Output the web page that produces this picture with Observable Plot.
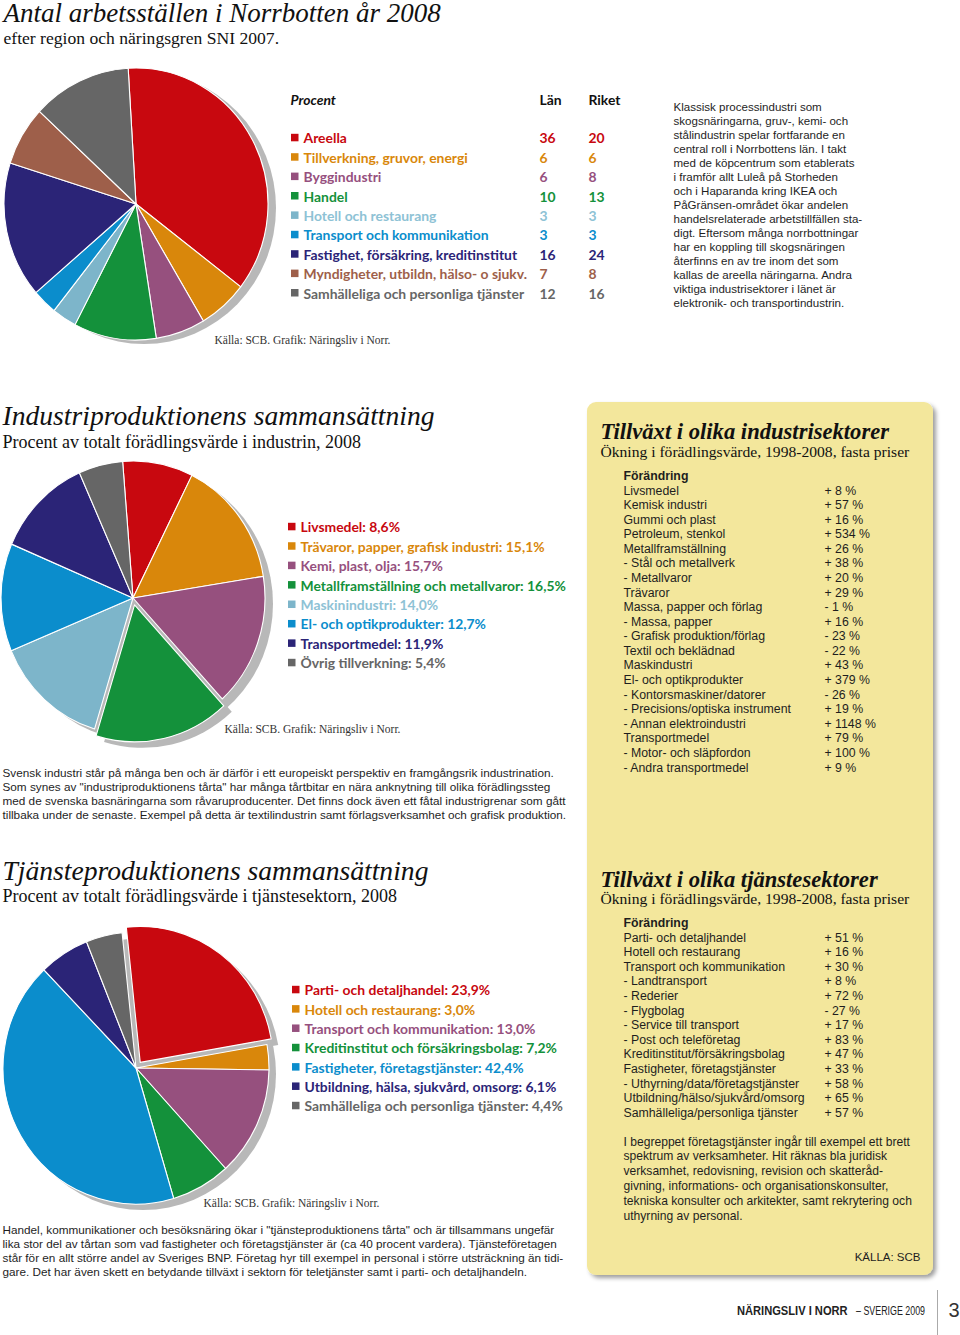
<!DOCTYPE html>
<html><head><meta charset="utf-8">
<script src="https://cdn.jsdelivr.net/npm/d3@7"></script>
<script src="https://cdn.jsdelivr.net/npm/@observablehq/plot@0.6"></script>
<style>
html,body{margin:0;padding:0;background:#fff;}
#chart{width:960px;height:1335px;}
</style></head>
<body><div id="chart"></div>
<script>
// ---------- DATA ----------
const sec1Categories = ["Areella","Tillverkning, gruvor, energi","Byggindustri","Handel","Hotell och restaurang","Transport och kommunikation","Fastighet, försäkring, kreditinstitut","Myndigheter, utbildn, hälso- o sjukv.","Samhälleliga och personliga tjänster"];
const sec1Lan   = [36, 6, 6, 10, 3, 3, 16, 7, 12];
const sec1Riket = [20, 6, 8, 13, 3, 3, 24, 8, 16];

const indCategories = ["Livsmedel","Trävaror, papper, grafisk industri","Kemi, plast, olja","Metallframställning och metallvaror","Maskinindustri","El- och optikprodukter","Transportmedel","Övrig tillverkning"];
const indShares = [8.6, 15.1, 15.7, 16.5, 14.0, 12.7, 11.9, 5.4];

const tjCategories = ["Parti- och detaljhandel","Hotell och restaurang","Transport och kommunikation","Kreditinstitut och försäkringsbolag","Fastigheter, företagstjänster","Utbildning, hälsa, sjukvård, omsorg","Samhälleliga och personliga tjänster"];
const tjShares = [23.9, 3.0, 13.0, 7.2, 42.4, 6.1, 4.4];

const indGrowthLabels = ["Livsmedel","Kemisk industri","Gummi och plast","Petroleum, stenkol","Metallframställning","- Stål och metallverk","- Metallvaror","Trävaror","Massa, papper och förlag","- Massa, papper","- Grafisk produktion/förlag","Textil och beklädnad","Maskindustri","El- och optikprodukter","- Kontorsmaskiner/datorer","- Precisions/optiska instrument","- Annan elektroindustri","Transportmedel","- Motor- och släpfordon","- Andra transportmedel"];
const indGrowth = [8, 57, 16, 534, 26, 38, 20, 29, -1, 16, -23, -22, 43, 379, -26, 19, 1148, 79, 100, 9];

const tjGrowthLabels = ["Parti- och detaljhandel","Hotell och restaurang","Transport och kommunikation","- Landtransport","- Rederier","- Flygbolag","- Service till transport","- Post och teleföretag","Kreditinstitut/försäkringsbolag","Fastigheter, företagstjänster","- Uthyrning/data/företagstjänster","Utbildning/hälso/sjukvård/omsorg","Samhälleliga/personliga tjänster"];
const tjGrowth = [51, 16, 30, 8, 72, -27, 17, 83, 47, 33, 58, 65, 57];

const text1 = ["Klassisk processindustri som","skogsnäringarna, gruv-, kemi- och","stålindustrin spelar fortfarande en","central roll i Norrbottens län. I takt","med de köpcentrum som etablerats","i framför allt Luleå på Storheden","och i Haparanda kring IKEA och","PåGränsen-området ökar andelen","handelsrelaterade arbetstillfällen sta-","digt. Eftersom många norrbottningar","har en koppling till skogsnäringen","återfinns en av tre inom det som","kallas de areella näringarna. Andra","viktiga industrisektorer i länet är","elektronik- och transportindustrin."];
const text2 = ["Svensk industri står på många ben och är därför i ett europeiskt perspektiv en framgångsrik industrination.","Som synes av \"industriproduktionens tårta\" har många tårtbitar en nära anknytning till olika förädlingssteg","med de svenska basnäringarna som råvaruproducenter. Det finns dock även ett fåtal industrigrenar som gått","tillbaka under de senaste. Exempel på detta är textilindustrin samt förlagsverksamhet och grafisk produktion."];
const text3 = ["Handel, kommunikationer och besöksnäring ökar i \"tjänsteproduktionens tårta\" och är tillsammans ungefär","lika stor del av tårtan som vad fastigheter och företagstjänster är (ca 40 procent vardera). Tjänsteföretagen","står för en allt större andel av Sveriges BNP. Företag hyr till exempel in personal i större utsträckning än tidi-","gare. Det har även skett en betydande tillväxt i sektorn för teletjänster samt i parti- och detaljhandeln."];
const textBox = ["I begreppet företagstjänster ingår till exempel ett brett","spektrum av verksamheter. Hit räknas bla juridisk","verksamhet, redovisning, revision och skatteråd-","givning, informations- och organisationskonsulter,","tekniska konsulter och arkitekter, samt rekrytering och","uthyrning av personal."];

// ---------- STYLE ----------
const RED="#c8080f", ORANGE="#d9870b", PURPLE="#96507e", GREEN="#14913b", LBLUE="#7db5ca", BLUE="#0b8dcc", NAVY="#2b2477", BROWN="#9e5f4a", GRAY="#666666";
const SERIF = "Liberation Serif, Times New Roman, serif";
const SANS = "Liberation Sans, Arial, Helvetica, sans-serif";
const LEG = "Lato, sans-serif";
const INK = "#1e1e1e";
const SHADOW = "#b8b8b8";

const c1 = Plot.scale({color: {type: "ordinal", domain: sec1Categories, range: [RED, ORANGE, PURPLE, GREEN, LBLUE, BLUE, NAVY, BROWN, GRAY]}});
const c2 = Plot.scale({color: {type: "ordinal", domain: indCategories, range: [RED, ORANGE, PURPLE, GREEN, LBLUE, BLUE, NAVY, GRAY]}});
const c3 = Plot.scale({color: {type: "ordinal", domain: tjCategories, range: [RED, ORANGE, PURPLE, GREEN, BLUE, NAVY, GRAY]}});
const textTint = c => c === LBLUE ? "#8ec2d5" : c;

const pct = v => v.toFixed(1).replace(".", ",") + "%";
const growth = v => (v < 0 ? "- " + (-v) : "+ " + v) + " %";

// ---------- PIE MARK ----------
function pieMark(cats, vals, scale, g) {
  return () => {
    const root = d3.create("svg:g");
    const data = cats.map((c, i) => ({c, v: vals[i]}));
    const a0 = g.start * Math.PI / 180;
    const arcs = d3.pie().sort(null).value(d => d.v).startAngle(a0).endAngle(a0 + 2 * Math.PI)(data);
    const arc = d3.arc().innerRadius(0).outerRadius(g.rx);
    const k = g.ry / g.rx;
    const off = a => {
      if (a.index !== g.explode) return [0, 0];
      const m = (a.startAngle + a.endAngle) / 2;
      return [g.ex * Math.sin(m), -g.ex * Math.cos(m)];
    };
    root.append("ellipse").attr("cx", g.cx + g.sdx).attr("cy", g.cy + g.sdy)
      .attr("rx", g.rx).attr("ry", g.ry).attr("fill", SHADOW);
    for (const a of arcs) {
      if (a.index !== g.explode) continue;
      const [ox, oy] = off(a);
      root.append("path").attr("d", arc(a)).attr("fill", SHADOW)
        .attr("transform", `translate(${g.cx + ox + g.sdx},${g.cy + oy + g.sdy}) scale(1,${k})`);
    }
    for (const a of arcs) {
      const [ox, oy] = off(a);
      root.append("path").attr("d", arc(a)).attr("fill", scale.apply(a.data.c))
        .attr("stroke", "#fff").attr("stroke-width", 1.1).attr("stroke-linejoin", "round")
        .attr("vector-effect", "non-scaling-stroke")
        .attr("transform", `translate(${g.cx + ox},${g.cy + oy}) scale(1,${k})`);
    }
    return root.node();
  };
}

// yellow box with drop shadow
const boxMark = () => {
  const g = d3.create("svg:g");
  const f = g.append("defs").append("filter").attr("id", "boxshadow")
    .attr("x", "-5%").attr("y", "-5%").attr("width", "115%").attr("height", "115%");
  f.append("feDropShadow").attr("dx", 3).attr("dy", 3).attr("stdDeviation", 2.2)
    .attr("flood-color", "#000").attr("flood-opacity", 0.38);
  g.append("rect").attr("x", 587).attr("y", 402).attr("width", 346).attr("height", 873)
    .attr("rx", 9).attr("fill", "#f3e79c").attr("filter", "url(#boxshadow)");
  return g.node();
};

// footer in a condensed look (horizontally scaled)
const footerMark = () => {
  const g = d3.create("svg:g").attr("font-family", SANS).attr("font-size", 12.5)
    .attr("fill", "#222").attr("text-anchor", "start");
  g.append("g").attr("transform", "translate(737,1315) scale(0.89,1)")
    .append("text").attr("font-weight", "bold").text("NÄRINGSLIV I NORR");
  g.append("g").attr("transform", "translate(856,1315) scale(0.71,1)")
    .append("text").text("– SVERIGE 2009");
  return g.node();
};

// ---------- helpers ----------
const lines = (arr, x, y0, step, o) => Plot.text(arr.map((t, i) => ({t, x, y: y0 + i * step})),
  {x: "x", y: "y", text: "t", textAnchor: "start", lineAnchor: "bottom", ...o});
const one = (t, x, y, o) => Plot.text([{t, x, y}], {x: "x", y: "y", text: "t", textAnchor: "start", lineAnchor: "bottom", ...o});

const legFont = {fontFamily: LEG, fontWeight: 700, fontSize: 13.9};

function legend(cats, scale, labelFn, sqX, txX, y0, step) {
  const rows = cats.map((c, i) => ({c, y: y0 + i * step, col: scale.apply(c), label: labelFn(c, i)}));
  return [
    Plot.rect(rows, {x1: () => sqX, x2: () => sqX + 7.5, y1: d => d.y - 4.2, y2: d => d.y + 3.3, fill: d => d.col}),
    Plot.text(rows, {x: () => txX, y: d => d.y + 4.8, text: "label", fill: d => textTint(d.col), textAnchor: "start", lineAnchor: "bottom", ...legFont})
  ];
}

const rows1 = sec1Categories.map((c, i) => ({c, y: 138 + i * 19.4, col: textTint(c1.apply(c)), lan: sec1Lan[i], riket: sec1Riket[i]}));

const body = {fontFamily: SANS, fontSize: 11.55, fill: INK};
const para = {fontFamily: SANS, fontSize: 11.75, fill: INK};
const tab = {fontFamily: SANS, fontSize: 12.3, fill: INK};

const chart = Plot.plot({
  width: 960, height: 1335, margin: 0,
  x: {type: "identity", axis: null},
  y: {type: "identity", axis: null},
  style: {background: "#fff", overflow: "visible"},
  marks: [
    boxMark,
    // ----- section 1 -----
    one("Antal arbetsställen i Norrbotten år 2008", 3, 21, {fontFamily: SERIF, fontStyle: "italic", fontSize: 27, fill: "#111"}),
    one("efter region och näringsgren SNI 2007.", 3, 43, {fontFamily: SERIF, fontSize: 17.6, fill: "#111"}),
    pieMark(sec1Categories, sec1Lan, c1, {cx: 136, cy: 204, rx: 132, ry: 136, start: -3.4, explode: -1, ex: 0, sdx: 8, sdy: 4}),
    one("Procent", 290, 104.5, {...legFont, fontStyle: "italic", fill: "#111"}),
    one("Län", 539, 104.5, {...legFont, fill: "#111"}),
    one("Riket", 588, 104.5, {...legFont, fill: "#111"}),
    ...legend(sec1Categories, c1, c => c, 291, 303, 138, 19.4),
    Plot.text(rows1, {x: () => 539, y: d => d.y + 4.8, text: "lan", fill: "col", textAnchor: "start", lineAnchor: "bottom", ...legFont}),
    Plot.text(rows1, {x: () => 588, y: d => d.y + 4.8, text: "riket", fill: "col", textAnchor: "start", lineAnchor: "bottom", ...legFont}),
    lines(text1, 673, 110, 14.0, body),
    one("Källa: SCB. Grafik: Näringsliv i Norr.", 214, 343, {fontFamily: SERIF, fontSize: 11.5, fill: "#333"}),

    // ----- section 2 -----
    one("Industriproduktionens sammansättning", 2, 424, {fontFamily: SERIF, fontStyle: "italic", fontSize: 27.6, fill: "#111"}),
    one("Procent av totalt förädlingsvärde i industrin, 2008", 2, 447, {fontFamily: SERIF, fontSize: 18, fill: "#111"}),
    pieMark(indCategories, indShares, c2, {cx: 133, cy: 598, rx: 132, ry: 137, start: -4.5, explode: 3, ex: 7, sdx: 8, sdy: 6}),
    ...legend(indCategories, c2, (c, i) => c + ": " + pct(indShares[i]), 288, 300, 527, 19.43),
    one("Källa: SCB. Grafik: Näringsliv i Norr.", 224, 732, {fontFamily: SERIF, fontSize: 11.5, fill: "#333"}),
    lines(text2, 2, 776, 14, para),

    // ----- section 3 -----
    one("Tjänsteproduktionens sammansättning", 2, 879, {fontFamily: SERIF, fontStyle: "italic", fontSize: 27.6, fill: "#111"}),
    one("Procent av totalt förädlingsvärde i tjänstesektorn, 2008", 2, 901, {fontFamily: SERIF, fontSize: 18, fill: "#111"}),
    pieMark(tjCategories, tjShares, c3, {cx: 136, cy: 1068, rx: 133, ry: 136, start: -6, explode: 0, ex: 7, sdx: 7, sdy: 6}),
    ...legend(tjCategories, c3, (c, i) => c + ": " + pct(tjShares[i]), 292, 304, 990, 19.33),
    one("Källa: SCB. Grafik: Näringsliv i Norr.", 203, 1206, {fontFamily: SERIF, fontSize: 11.5, fill: "#333"}),
    lines(text3, 2, 1233, 14, para),

    // ----- box: industry growth -----
    one("Tillväxt i olika industrisektorer", 600, 438, {fontFamily: SERIF, fontStyle: "italic", fontWeight: "bold", fontSize: 22.6, fill: "#111"}),
    one("Ökning i förädlingsvärde, 1998-2008, fasta priser", 600, 456, {fontFamily: SERIF, fontSize: 15.6, fill: "#111"}),
    one("Förändring", 623, 479, {...tab, fontWeight: "bold"}),
    lines(indGrowthLabels, 623, 494, 14.58, tab),
    lines(indGrowth.map(growth), 824, 494, 14.58, tab),

    // ----- box: service growth -----
    one("Tillväxt i olika tjänstesektorer", 600, 886, {fontFamily: SERIF, fontStyle: "italic", fontWeight: "bold", fontSize: 22.6, fill: "#111"}),
    one("Ökning i förädlingsvärde, 1998-2008, fasta priser", 600, 903.5, {fontFamily: SERIF, fontSize: 15.6, fill: "#111"}),
    one("Förändring", 623, 926, {...tab, fontWeight: "bold"}),
    lines(tjGrowthLabels, 623, 941, 14.6, tab),
    lines(tjGrowth.map(growth), 824, 941, 14.6, tab),
    lines(textBox, 623, 1145, 14.8, {...tab, fontSize: 12.1}),
    Plot.text([{t: "KÄLLA: SCB", x: 920, y: 1260}], {x: "x", y: "y", text: "t", textAnchor: "end", lineAnchor: "bottom", fontFamily: SANS, fontSize: 11.5, fill: INK}),

    // ----- footer -----
    footerMark,
    Plot.ruleX([937], {y1: 1290, y2: 1335, stroke: "#aaa", strokeWidth: 1}),
    one("3", 948, 1316, {fontFamily: SANS, fontSize: 20, fill: "#333"})
  ]
});
document.getElementById("chart").appendChild(chart);
</script></body></html>
